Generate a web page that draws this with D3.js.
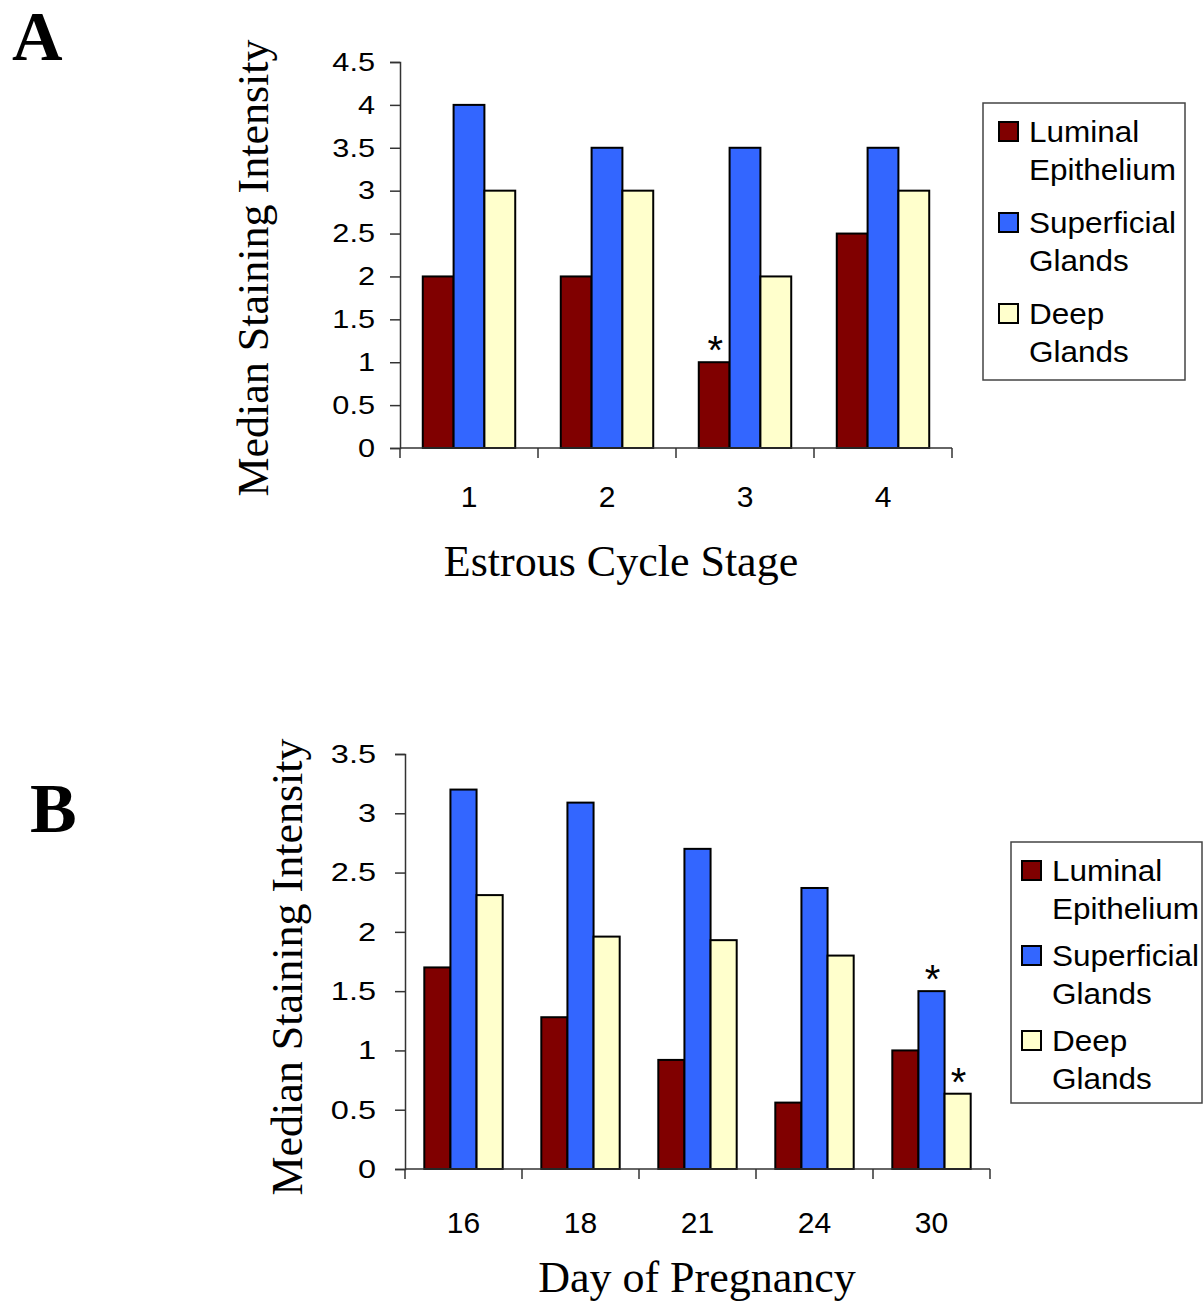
<!DOCTYPE html>
<html>
<head>
<meta charset="utf-8">
<script src="https://cdn.jsdelivr.net/npm/d3@7"></script>
<style>
  body { margin: 0; background: #fff; }
  svg { display: block; }
</style>
</head>
<body>
<svg id="chart" width="1203" height="1302"></svg>
<script>
// series shared by both panels
const seriesNames = ["Luminal Epithelium", "Superficial Glands", "Deep Glands"];
const legendLines = [["Luminal", "Epithelium"], ["Superficial", "Glands"], ["Deep", "Glands"]];
const seriesColors = ["#800000", "#3366ff", "#ffffcc"];

// panel A - estrous cycle
const stagesA = ["1", "2", "3", "4"];
const luminalA = [2, 2, 1, 2.5];
const superficialA = [4, 3.5, 3.5, 3.5];
const deepA = [3, 3, 2, 3];
const yTicksA = [0, 0.5, 1, 1.5, 2, 2.5, 3, 3.5, 4, 4.5];
const starsA = [{ cat: "3", series: 0 }];

// panel B - pregnancy
const daysB = ["16", "18", "21", "24", "30"];
const luminalB = [1.7, 1.28, 0.92, 0.56, 1.0];
const superficialB = [3.2, 3.09, 2.7, 2.37, 1.5];
const deepB = [2.31, 1.96, 1.93, 1.8, 0.635];
const yTicksB = [0, 0.5, 1, 1.5, 2, 2.5, 3, 3.5];
const starsB = [{ cat: "30", series: 1 }, { cat: "30", series: 2 }];

const svg = d3.select("#chart");

function drawPanel(cfg) {
    const g = svg.append("g");

    const y = d3.scaleLinear().domain([0, cfg.yMax]).range([cfg.bottom, cfg.top]);
    const x0 = d3.scaleBand().domain(cfg.cats).range([cfg.left, cfg.right])
        .paddingInner(0.33).paddingOuter(0.165);
    const x1 = d3.scaleBand().domain(d3.range(seriesNames.length)).range([0, x0.bandwidth()]);

    // bars
    const rows = cfg.cats.map((c, i) => ({ cat: c, vals: cfg.series.map(s => s[i]) }));
    g.append("g").selectAll("g")
        .data(rows)
        .enter()
        .append("g")
        .attr("transform", d => `translate(${x0(d.cat)},0)`)
        .selectAll("rect")
        .data(d => d.vals.map((v, k) => ({ k: k, v: v })))
        .enter()
        .append("rect")
        .attr("x", d => x1(d.k))
        .attr("y", d => y(d.v))
        .attr("width", x1.bandwidth())
        .attr("height", d => y(0) - y(d.v))
        .attr("fill", d => seriesColors[d.k])
        .attr("stroke", "#000")
        .attr("stroke-width", 2);

    // asterisks
    g.selectAll("text.star")
        .data(cfg.stars)
        .enter()
        .append("text")
        .attr("class", "star")
        .attr("x", d => x0(d.cat) + x1(d.series) + x1.bandwidth() / 2 + 1)
        .attr("y", d => y(cfg.series[d.series][cfg.cats.indexOf(d.cat)]) + 2)
        .attr("text-anchor", "middle")
        .style("font-family", "'Liberation Sans', Arial, sans-serif")
        .style("font-size", "40px")
        .text("*");

    // y axis
    const yAxis = g.append("g")
        .attr("transform", `translate(${cfg.left},0)`)
        .call(d3.axisLeft(y).tickValues(cfg.yTicks).tickFormat(d3.format("")).tickSize(10).tickPadding(cfg.tickPad));
    yAxis.select(".domain").attr("stroke", "#333").attr("stroke-width", 1.5);
    yAxis.selectAll(".tick line").attr("stroke", "#333").attr("stroke-width", 1.5);
    yAxis.selectAll("text")
        .attr("fill", "#000")
        .style("font-family", "'Liberation Sans', Arial, sans-serif")
        .style("font-size", "26px")
        .each(function () {
            const w = this.getComputedTextLength();
            this.setAttribute("textLength", w * cfg.stretch);
            this.setAttribute("lengthAdjust", "spacingAndGlyphs");
        });

    // x axis: line with ticks at the category boundaries
    const half = (x0.step() - x0.bandwidth()) / 2;
    const edges = cfg.cats.map(c => x0(c) - half).concat([x0(cfg.cats[cfg.cats.length - 1]) + x0.bandwidth() + half]);
    g.append("line")
        .attr("x1", cfg.left).attr("x2", edges[edges.length - 1])
        .attr("y1", y(0)).attr("y2", y(0))
        .attr("stroke", "#333").attr("stroke-width", 1.5);
    g.selectAll("line.xtick")
        .data(edges)
        .enter()
        .append("line")
        .attr("class", "xtick")
        .attr("x1", d => d).attr("x2", d => d)
        .attr("y1", y(0)).attr("y2", y(0) + 10)
        .attr("stroke", "#333").attr("stroke-width", 1.5);
    g.selectAll("text.xlab")
        .data(cfg.cats)
        .enter()
        .append("text")
        .attr("class", "xlab")
        .attr("x", d => x0(d) + x0.bandwidth() / 2)
        .attr("y", y(0) + cfg.xLabDrop)
        .attr("text-anchor", "middle")
        .style("font-family", "'Liberation Sans', Arial, sans-serif")
        .style("font-size", "30px")
        .text(d => d);

    // axis titles
    g.append("text")
        .attr("x", cfg.xTitleX).attr("y", cfg.xTitleY)
        .attr("text-anchor", "middle")
        .style("font-family", "'Liberation Serif', 'Times New Roman', serif")
        .style("font-size", "44px")
        .text(cfg.xTitle);
    g.append("text")
        .attr("transform", `translate(${cfg.yTitleX},${cfg.yTitleY}) rotate(-90)`)
        .attr("text-anchor", "middle")
        .style("font-family", "'Liberation Serif', 'Times New Roman', serif")
        .style("font-size", "44px")
        .text("Median Staining Intensity");

    // panel letter
    g.append("text")
        .attr("x", cfg.letterX).attr("y", cfg.letterY)
        .style("font-family", "'Liberation Serif', 'Times New Roman', serif")
        .style("font-weight", "bold")
        .style("font-size", "70px")
        .text(cfg.letter);

    // legend
    const L = cfg.legend;
    const lg = g.append("g");
    lg.append("rect")
        .attr("x", L.x).attr("y", L.y)
        .attr("width", L.w).attr("height", L.h)
        .attr("fill", "#fff").attr("stroke", "#444").attr("stroke-width", 1.5);
    const items = lg.selectAll("g.item")
        .data(legendLines)
        .enter()
        .append("g")
        .attr("class", "item")
        .attr("transform", (d, i) => `translate(${L.x},${L.y + L.first + i * L.gap})`);
    items.append("rect")
        .attr("x", L.pad).attr("y", -20)
        .attr("width", 19).attr("height", 19)
        .attr("fill", (d, i) => seriesColors[i])
        .attr("stroke", "#000").attr("stroke-width", 2);
    items.selectAll("text")
        .data(d => d)
        .enter()
        .append("text")
        .attr("x", L.pad + 30)
        .attr("y", (d, j) => j * 38)
        .style("font-family", "'Liberation Sans', Arial, sans-serif")
        .style("font-size", "30px")
        .each(function (d) {
            this.textContent = d;
            const w = this.getComputedTextLength();
            this.setAttribute("textLength", w * 1.05);
            this.setAttribute("lengthAdjust", "spacingAndGlyphs");
        });
}

drawPanel({
    cats: stagesA, series: [luminalA, superficialA, deepA], stars: starsA,
    yMax: 4.5, yTicks: yTicksA, top: 62, bottom: 448, left: 400, right: 952,
    tickPad: 15, stretch: 1.18, xLabDrop: 59,
    xTitle: "Estrous Cycle Stage", xTitleX: 621, xTitleY: 576,
    yTitleX: 268, yTitleY: 268,
    letter: "A", letterX: 12, letterY: 60,
    legend: { x: 983, y: 103, w: 202, h: 277, first: 39, gap: 91, pad: 16 }
});

drawPanel({
    cats: daysB, series: [luminalB, superficialB, deepB], stars: starsB,
    yMax: 3.5, yTicks: yTicksB, top: 754, bottom: 1169, left: 405, right: 990,
    tickPad: 19, stretch: 1.25, xLabDrop: 64,
    xTitle: "Day of Pregnancy", xTitleX: 697, xTitleY: 1292,
    yTitleX: 302, yTitleY: 967,
    letter: "B", letterX: 30, letterY: 832,
    legend: { x: 1011, y: 842, w: 191, h: 261, first: 39, gap: 85, pad: 11 }
});
</script>
</body>
</html>
